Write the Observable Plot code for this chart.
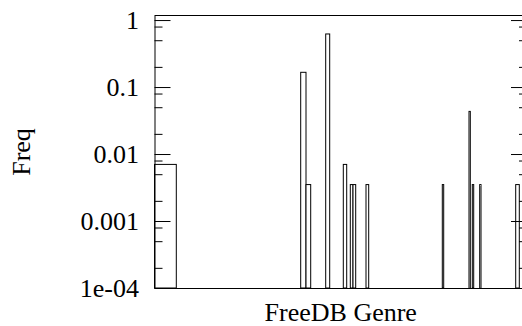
<!DOCTYPE html>
<html>
<head>
<meta charset="utf-8">
<script src="https://cdn.jsdelivr.net/npm/d3@7"></script>
<script src="https://cdn.jsdelivr.net/npm/@observablehq/plot@0.6"></script>
<style>
  html, body { margin: 0; padding: 0; background: white; overflow: hidden; }
  #chart { width: 522px; height: 326px; }
  #chart svg, #chart svg text { font-family: "Liberation Serif", "Times New Roman", serif !important; }
</style>
</head>
<body>
<div id="chart"></div>
<script>
// Bin edges along the genre axis (arbitrary genre-position units) and frequencies
const binStart = [0, 146.2, 151.5, 171.2, 188.8, 195.8, 198.5, 211.5, 287.8, 314.5, 317.8, 325.2, 361.2];
const binEnd   = [21.8, 151.5, 156.2, 175.2, 192.2, 198.5, 201.2, 214.2, 289.2, 315.8, 319.2, 326.5, 364.8];
const freq     = [0.007, 0.166, 0.0035, 0.62, 0.007, 0.0035, 0.0035, 0.0035, 0.0035, 0.0433, 0.0035, 0.0035, 0.0035];

const majorTicks = [1e-4, 1e-3, 1e-2, 0.1, 1];
const majorLabels = ["1e-04", "0.001", "0.01", "0.1", "1"];
const minorMultipliers = [2, 5, 8];
const yMin = 1e-4;
const yMax = 1.19;
const xMax = 371.5;

const minorTicks = [];
for (const t of majorTicks) for (const m of minorMultipliers) {
  const v = t * m;
  if (v < yMax) minorTicks.push(v);
}

const bars = binStart.map((s, i) => ({start: s, end: binEnd[i], freq: freq[i]}));
const labelOf = new Map(majorTicks.map((t, i) => [t, majorLabels[i]]));

const font = "'Liberation Serif', 'Times New Roman', serif";

const chart = Plot.plot({
  width: 522,
  height: 326,
  marginLeft: 154.5,
  marginRight: -4,
  marginTop: 15,
  marginBottom: 38,
  style: {fontFamily: font, fontSize: "26px", background: "white", color: "black"},
  x: {domain: [0, xMax], axis: null},
  y: {type: "log", domain: [yMin, yMax], axis: null},
  marks: [
    Plot.rect(bars, {x1: "start", x2: "end", y1: () => yMin, y2: "freq", fill: "white", stroke: "black", strokeWidth: 1}),
    Plot.frame({stroke: "black", strokeWidth: 1}),
    Plot.axisY({anchor: "left", ticks: majorTicks, tickSize: -16, text: null, label: null, stroke: "black"}),
    Plot.axisY({anchor: "right", ticks: majorTicks, tickSize: -16, text: null, label: null, stroke: "black"}),
    Plot.axisY({anchor: "left", ticks: minorTicks, tickSize: -8, text: null, label: null, stroke: "black"}),
    Plot.axisY({anchor: "right", ticks: minorTicks, tickSize: -8, text: null, label: null, stroke: "black"}),
    Plot.axisY({anchor: "left", ticks: majorTicks, tickSize: 0, tickPadding: 16, tickFormat: d => labelOf.get(d),
                fontSize: 26, label: "Freq", labelAnchor: "center", labelArrow: "none", labelOffset: 143}),
    Plot.axisX({anchor: "bottom", ticks: [], tickSize: 0, label: "FreeDB Genre", labelAnchor: "center",
                labelArrow: "none", labelOffset: 32, fontSize: 26})
  ]
});
document.getElementById("chart").appendChild(chart);
</script>
</body>
</html>
